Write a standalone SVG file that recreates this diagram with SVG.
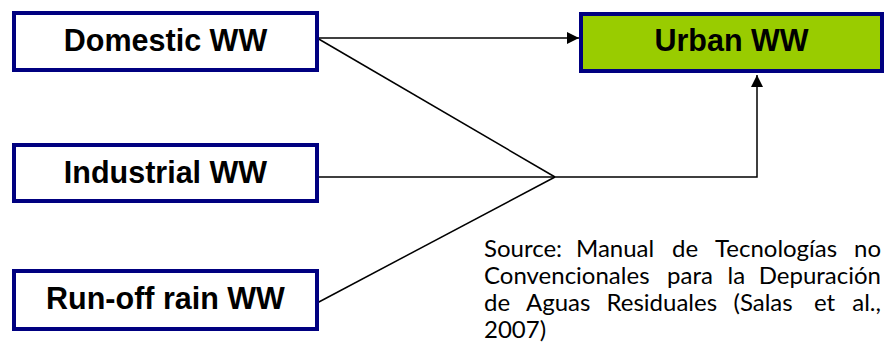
<svg xmlns="http://www.w3.org/2000/svg" width="885" height="356" viewBox="0 0 885 356">
  <style>
    .box { fill: #ffffff; stroke: #000080; stroke-width: 4; }
    .box.urban { fill: #99cc00; }
    .label { font-family: "Liberation Sans", Arial, sans-serif; font-weight: bold; font-size: 30.5px; fill: #000000; text-anchor: middle; }
    .wire { fill: none; stroke: #000000; stroke-width: 1.5; }
    .src { font-family: Lato, "Noto Sans", sans-serif; font-size: 24px; fill: #000000; }
  </style>
  <defs>
    <marker id="head" viewBox="0 0 12 12" refX="12" refY="6" markerWidth="12" markerHeight="12" markerUnits="userSpaceOnUse" orient="auto">
      <path d="M0,0 L12,6 L0,12 Z" fill="#000000"/>
    </marker>
  </defs>

  <g id="connectors">
    <line class="wire" x1="317" y1="38" x2="579" y2="38" marker-end="url(#head)"/>
    <line class="wire" x1="317" y1="38" x2="555" y2="177"/>
    <line class="wire" x1="317" y1="303" x2="555" y2="177"/>
    <polyline class="wire" points="317,177 757,177 757,75" marker-end="url(#head)"/>
  </g>

  <g id="domestic">
    <rect class="box" x="14" y="13" width="303" height="57"/>
    <text class="label" x="165.5" y="51">Domestic WW</text>
  </g>

  <g id="urban">
    <rect class="box urban" x="581" y="14" width="301" height="57"/>
    <text class="label" x="731.5" y="51">Urban WW</text>
  </g>

  <g id="industrial">
    <rect class="box" x="14" y="145" width="303" height="56"/>
    <text class="label" x="165.5" y="183">Industrial WW</text>
  </g>

  <g id="runoff">
    <rect class="box" x="14" y="271" width="303" height="58"/>
    <text class="label" x="165.5" y="309">Run-off rain WW</text>
  </g>

  <!-- justified source note: each word placed so lines span 484..881 -->
  <g id="source" class="src">
    <text x="484" y="257">Source:</text>
    <text x="576" y="257">Manual</text>
    <text x="672" y="257">de</text>
    <text x="715" y="257">Tecnologías</text>
    <text x="881" y="257" text-anchor="end">no</text>
    <text x="484" y="284">Convencionales</text>
    <text x="667" y="284">para</text>
    <text x="727.5" y="284">la</text>
    <text x="881" y="284" text-anchor="end">Depuración</text>
    <text x="484" y="311">de</text>
    <text x="526" y="311">Aguas</text>
    <text x="606.5" y="311">Residuales</text>
    <text x="733.5" y="311">(Salas</text>
    <text x="814" y="311">et</text>
    <text x="881" y="311" text-anchor="end">al.,</text>
    <text x="484" y="338">2007)</text>
  </g>
</svg>
